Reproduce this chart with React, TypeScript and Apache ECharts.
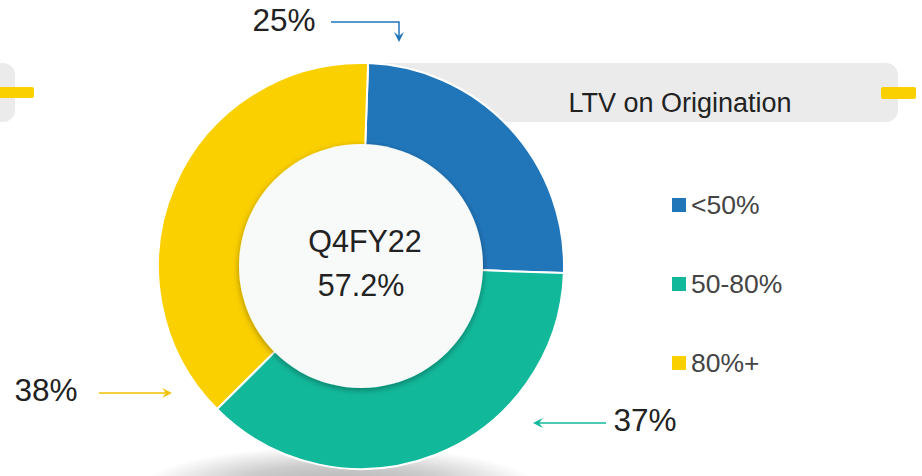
import React, { useEffect, useRef } from "react";
import * as echarts from "echarts";

const categories = ["<50%", "50-80%", "80%+"];
const values = [25, 37, 38];
const colors = ["#2176BA", "#12B89A", "#FBD000"];
const title = "LTV on Origination";
const centerLabel = "Q4FY22";
const centerValue = "57.2%";

const FONT = "'Liberation Sans', Arial, Helvetica, sans-serif";

export default function App() {
  const ref = useRef<HTMLDivElement>(null);
  useEffect(() => {
    document.body.style.margin = "0";
    const chart = echarts.init(ref.current!, undefined, { renderer: "svg" });
    const cx = 361;
    const cy = 266;
    const textStyle = (x: number, y: number, text: string, size: number, color = "#222") => ({
      type: "text",
      x,
      y,
      z: 20,
      style: {
        text,
        fontSize: size,
        fontFamily: FONT,
        fill: color,
        align: "center",
        verticalAlign: "middle",
      },
    });
    chart.setOption({
      animation: false,
      backgroundColor: "#ffffff",
      legend: {
        orient: "vertical",
        left: 672,
        top: 191,
        padding: 0,
        icon: "rect",
        itemWidth: 14,
        itemHeight: 14,
        itemGap: 51,
        selectedMode: false,
        data: categories,
        itemStyle: { borderWidth: 0 },
        textStyle: { fontSize: 26.5, lineHeight: 28, color: "#444", fontFamily: FONT },
      },
      graphic: [
        // gray banner boxes
        { type: "rect", z: -10, shape: { x: -30, y: 63, width: 45, height: 59, r: 12 }, style: { fill: "#ebebeb" } },
        { type: "rect", z: -10, shape: { x: 330, y: 63, width: 568, height: 59, r: 12 }, style: { fill: "#ebebeb" } },
        // yellow accents
        { type: "rect", z: -9, shape: { x: -4, y: 87, width: 38, height: 11, r: 2 }, style: { fill: "#FBD000" } },
        { type: "rect", z: -9, shape: { x: 881, y: 87, width: 35, height: 12, r: 2 }, style: { fill: "#FBD000" } },
        // bottom soft shadow
        {
          type: "ellipse",
          z: -8,
          shape: { cx: 340, cy: 488, rx: 200, ry: 42 },
          style: {
            fill: {
              type: "radial",
              x: 0.5,
              y: 0.5,
              r: 0.5,
              colorStops: [
                { offset: 0, color: "rgba(0,0,0,0.32)" },
                { offset: 0.55, color: "rgba(0,0,0,0.2)" },
                { offset: 1, color: "rgba(0,0,0,0)" },
              ],
            },
          },
        },
        // inner disc
        {
          type: "circle",
          z: 15,
          shape: { cx, cy, r: 122 },
          style: {
            fill: "#f8f9f9",
            shadowBlur: 6,
            shadowOffsetY: 2,
            shadowColor: "rgba(0,0,0,0.35)",
          },
        },
        textStyle(365, 241, centerLabel, 30.5),
        textStyle(361, 285, centerValue, 30.5),
        // title
        textStyle(680, 103, title, 27),
        // value labels
        textStyle(284, 20, `${values[0]}%`, 31.5),
        textStyle(645, 420, `${values[1]}%`, 31.5),
        textStyle(46, 390, `${values[2]}%`, 31.5),
        // arrows
        {
          type: "polyline",
          z: 20,
          shape: { points: [[331, 22], [399, 22], [399, 37]] },
          style: { stroke: colors[0], lineWidth: 1.5, fill: "none" },
        },
        {
          type: "polygon",
          z: 20,
          shape: { points: [[394, 32], [399, 42], [404, 32], [399, 36]] },
          style: { fill: colors[0] },
        },
        {
          type: "line",
          z: 20,
          shape: { x1: 606, y1: 423, x2: 536, y2: 423 },
          style: { stroke: colors[1], lineWidth: 1.5 },
        },
        {
          type: "polygon",
          z: 20,
          shape: { points: [[543, 418], [533, 423], [543, 428], [539, 423]] },
          style: { fill: colors[1] },
        },
        {
          type: "line",
          z: 20,
          shape: { x1: 99, y1: 393, x2: 169, y2: 393 },
          style: { stroke: "#F2C200", lineWidth: 1.5 },
        },
        {
          type: "polygon",
          z: 20,
          shape: { points: [[162, 388], [172, 393], [162, 398], [166, 393]] },
          style: { fill: "#F2C200" },
        },
      ],
      series: [
        {
          type: "pie",
          center: [cx, cy],
          radius: [118, 203],
          startAngle: 88,
          clockwise: true,
          silent: true,
          label: { show: false },
          labelLine: { show: false },
          itemStyle: { borderColor: "#ffffff", borderWidth: 2 },
          emphasis: { disabled: true },
          data: categories.map((name, i) => ({
            name,
            value: values[i],
            itemStyle: { color: colors[i] },
          })),
        },
      ],
    });
    return () => chart.dispose();
  }, []);
  return <div ref={ref} style={{ width: 922, height: 476 }} />;
}
